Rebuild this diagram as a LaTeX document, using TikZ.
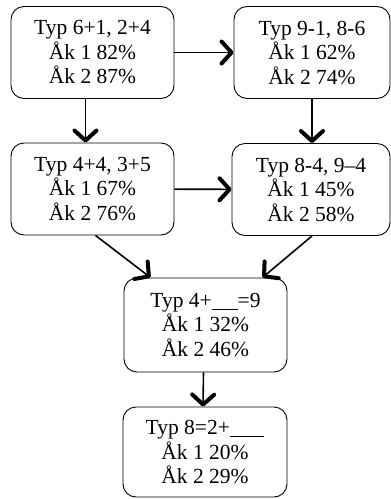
\documentclass[tikz,border=0pt]{standalone}
\usepackage{fontspec}
\setmainfont{Liberation Serif}
\usetikzlibrary{arrows.meta}
\begin{document}
\begin{tikzpicture}[x=1pt,y=-1pt,
  box/.style={draw,line width=0.9pt,rounded corners=13pt,inner sep=0pt,
    align=center,font=\fontsize{21.5}{24.5}\selectfont},
  flow/.style={line width=1.6pt,
    -{Straight Barb[length=10pt,width=22pt,line width=4pt,round]}}]
\useasboundingbox (0,0) rectangle (391,499);
\node[box,minimum width=163pt,minimum height=92pt] (b1) at (92.5,52.5)
  {Typ 6+1, 2+4\\Åk 1 82\%\\Åk 2 87\%};
\node[box,minimum width=156pt,minimum height=92pt] (b2) at (312,52.5)
  {Typ 9-1, 8-6\\Åk 1 62\%\\Åk 2 74\%};
\node[box,minimum width=163pt,minimum height=92pt] (b3) at (92.5,189)
  {Typ 4+4, 3+5\\Åk 1 67\%\\Åk 2 76\%};
\node[box,minimum width=158pt,minimum height=92pt] (b4) at (311,189.5)
  {Typ 8-4, 9–4\\Åk 1 45\%\\Åk 2 58\%};
\node[box,minimum width=163pt,minimum height=94pt] (b5) at (205.5,325)
  {Typ 4+\underline{\hspace{1.2em}}=9\\Åk 1 32\%\\Åk 2 46\%};
\node[box,minimum width=164pt,minimum height=90pt] (b6) at (205,452)
  {Typ 8=2+\underline{\hspace{1.6em}}\\Åk 1 20\%\\Åk 2 29\%};
\draw[flow] (b1) -- (b2);
\draw[flow] ([xshift=-7pt]b1.south) -- ([xshift=-7pt]b3.north);
\draw[flow] (b2.south) -- (b4.north -| b2.south);
\draw[flow] (b3) -- (b4);
\draw[flow] ([xshift=3pt]b3.south) -- ([xshift=-55pt]b5.north);
\draw[flow] ([xshift=1pt]b4.south) -- ([xshift=57pt]b5.north);
\draw[flow] ([xshift=-2pt]b5.south) -- ([xshift=-2pt]b6.north);
\end{tikzpicture}
\end{document}
